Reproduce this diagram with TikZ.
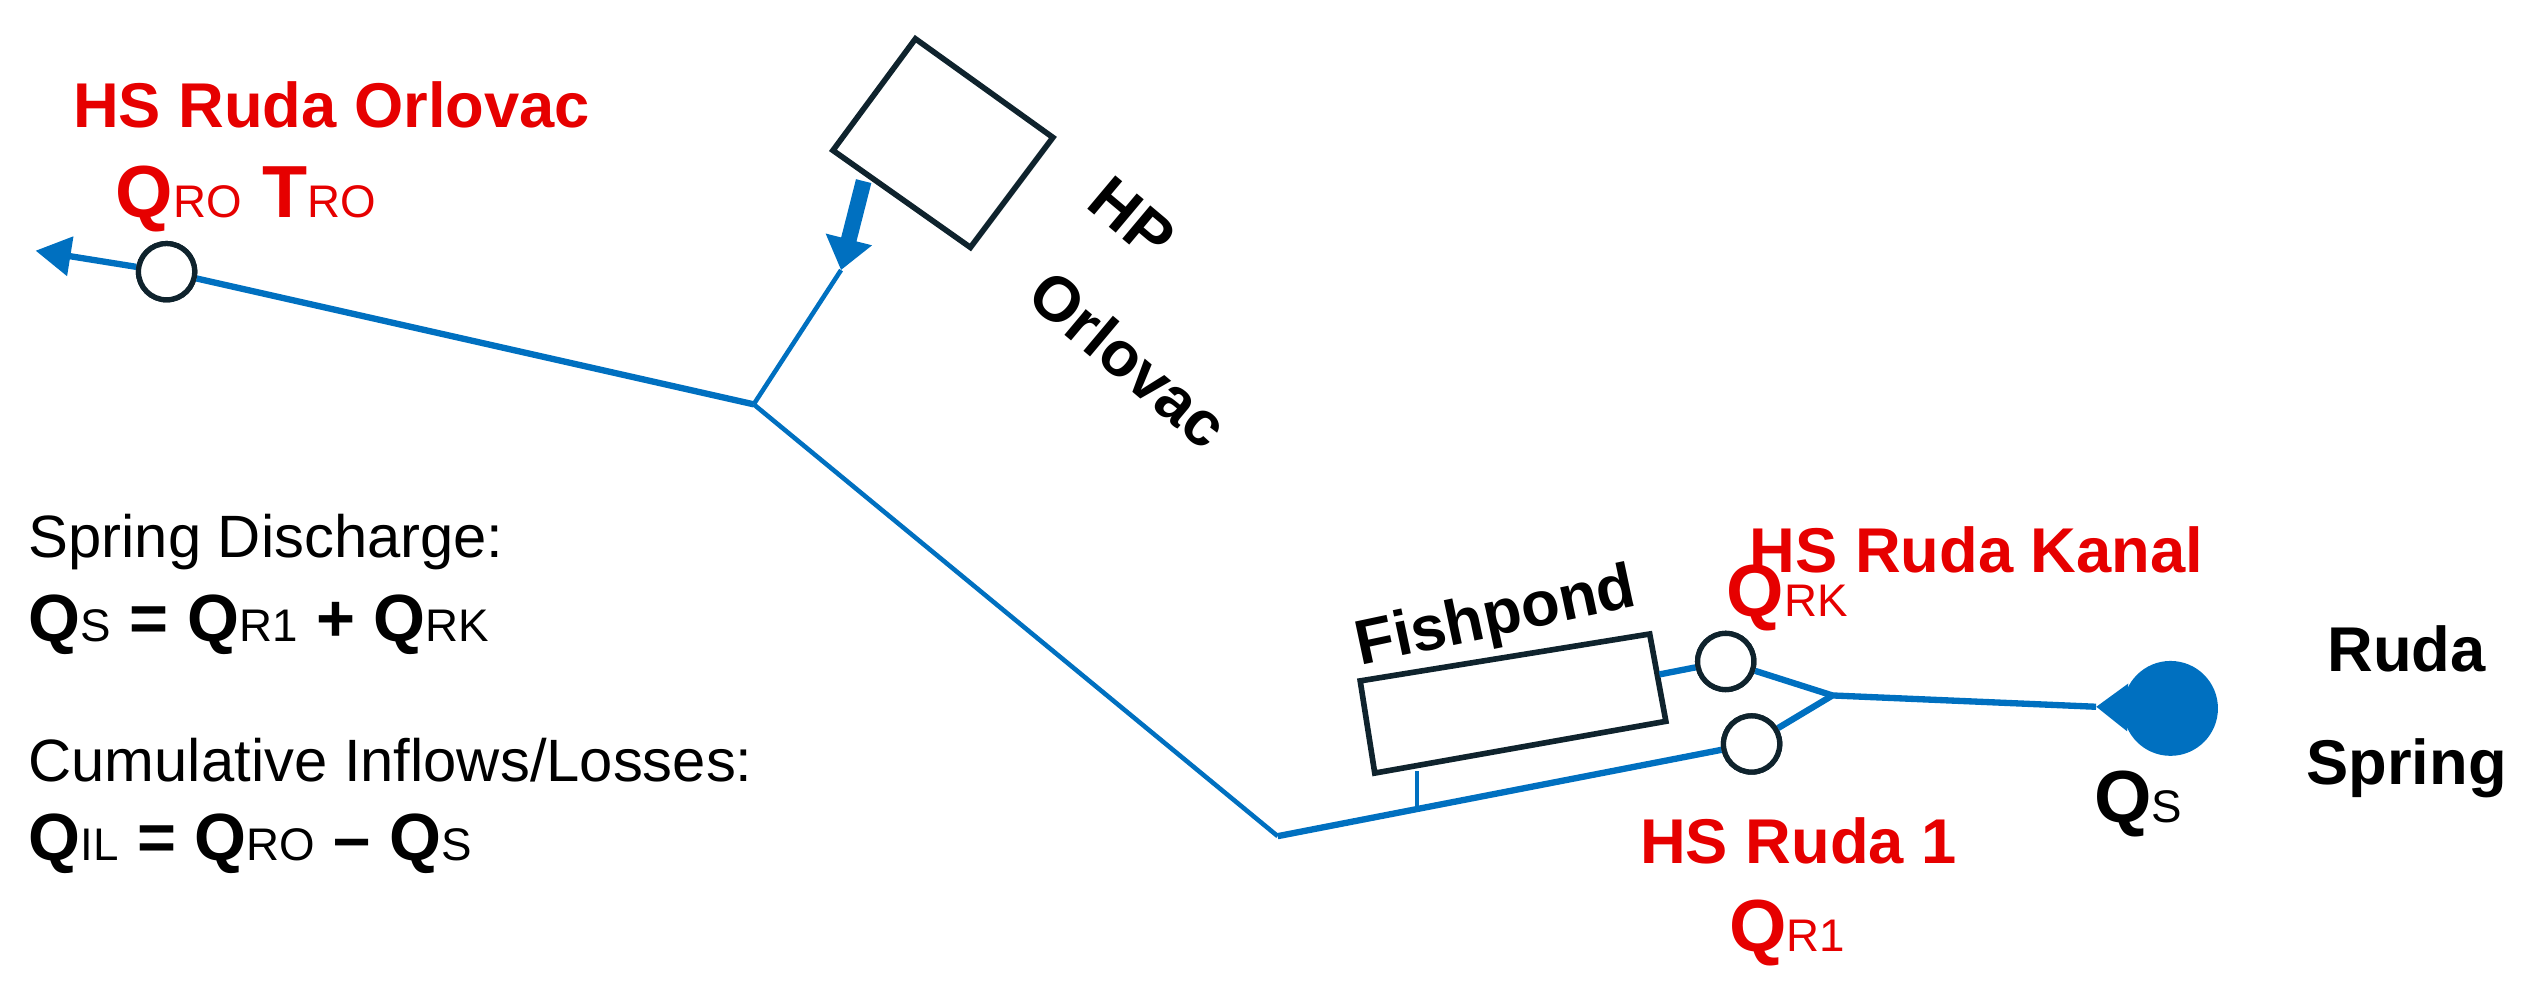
\documentclass[tikz,border=0pt]{standalone}
\usepackage{fontspec}
\setmainfont{Liberation Sans}
\usetikzlibrary{arrows.meta}
\definecolor{pipe}{RGB}{0,112,192}
\definecolor{hsred}{RGB}{230,0,0}
\definecolor{boxline}{RGB}{15,35,45}
\newcommand{\flow}[2]{#1{\fontsize{13}{13}\selectfont\mdseries #2}}
\tikzset{
  river/.style={draw=pipe, line width=1.8pt},
  feed/.style={draw=pipe, line width=4.5pt, -{Triangle[length=9pt,width=13pt]}},
  station/.style={circle, draw=boxline, line width=1.5pt, fill=white, minimum size=16pt, inner sep=0pt},
  tag/.style={text=hsred, font=\bfseries\fontsize{18}{20}\selectfont, align=center},
  sitename/.style={font=\bfseries\fontsize{18}{20}\selectfont, align=center},
  note/.style={font=\fontsize{17}{20}\selectfont, anchor=west}
}
\begin{document}
\begin{tikzpicture}[x=0.1617mm, y=-0.1617mm]
  \useasboundingbox (0,0) rectangle (1568,615);
  % points on the river
  \coordinate (out) at (22,155);
  \coordinate (hpin) at (520,167);
  \coordinate (hpout) at (534,112);
  \coordinate (fork) at (466,250);
  \coordinate (bend) at (790,517);
  \coordinate (stub) at (876,502);
  \coordinate (split) at (1133,430);
  \coordinate (tip) at (1296,437);
  \node[station] (ro) at (103,168) {};
  \node[station] (rk) at (1067,409) {};
  \node[station] (r1) at (1083,460) {};
  \node[circle, fill=pipe, minimum size=27pt, inner sep=0pt] (spring) at (1342,438) {};
  % boxes
  \draw[boxline, line width=1.6pt] (566,24) -- (651,85) -- (600,153) -- (515,93) -- cycle;
  \draw[boxline, line width=1.6pt] (841,421) -- (1020,392) -- (1030,446) -- (850,478) -- cycle;
  \coordinate (pond) at (876,477);
  \coordinate (pondr) at (1026,417);
  % flows
  \draw[river, -{Triangle[length=10pt,width=11pt]}] (fork) -- (ro) -- (out);
  \draw[river, line width=1.3pt] (fork) -- (hpin);
  \draw[feed] (hpout) -- (hpin);
  \draw[river, line width=1.3pt] (fork) -- (bend);
  \draw[river] (bend) -- (r1);
  \draw[river, line width=1pt] (stub) -- (pond);
  \draw[river] (pondr) -- (rk) -- (split);
  \draw[river] (r1) -- (split) -- (tip);
  \draw[feed] (spring) -- (tip);
  \node[station] at (ro) {};
  \node[station] at (rk) {};
  \node[station] at (r1) {};
  % labels
  \node[tag] (lro) at (205,65) {HS Ruda Orlovac};
  \node[tag, anchor=west, font=\bfseries\fontsize{21}{22}\selectfont] (qro) at (64,123) {\flow{Q}{RO} \flow{T}{RO}};
  \node[sitename, rotate=-40] (hp) at (700,135) {HP};
  \node[sitename, rotate=-40] (orl) at (698,222) {Orlovac};
  \node[sitename, rotate=12] (fish) at (925,383) {Fishpond};
  \node[tag] (lrk) at (1222,340) {HS Ruda Kanal};
  \node[tag, font=\bfseries\fontsize{21}{22}\selectfont] (qrk) at (1105,370) {\flow{Q}{RK}};
  \node[tag] (lr1) at (1112,520) {HS Ruda 1};
  \node[tag, font=\bfseries\fontsize{21}{22}\selectfont] (qr1) at (1105,577) {\flow{Q}{R1}};
  \node[sitename, font=\bfseries\fontsize{21}{22}\selectfont] (qs) at (1322,497) {\flow{Q}{S}};
  \node[sitename] (spr) at (1488,440) {Ruda\\[12pt]Spring};
  \node[note] (sd) at (10,335) {Spring Discharge:};
  \node[note, font=\bfseries\fontsize{19}{20}\selectfont] (eq1) at (10,386) {\flow{Q}{S} = \flow{Q}{R1} + \flow{Q}{RK}};
  \node[note] (cil) at (10,470) {Cumulative Inflows/Losses:};
  \node[note, font=\bfseries\fontsize{19}{20}\selectfont] (eq2) at (10,522) {\flow{Q}{IL} = \flow{Q}{RO} -- \flow{Q}{S}};
\end{tikzpicture}
\end{document}
